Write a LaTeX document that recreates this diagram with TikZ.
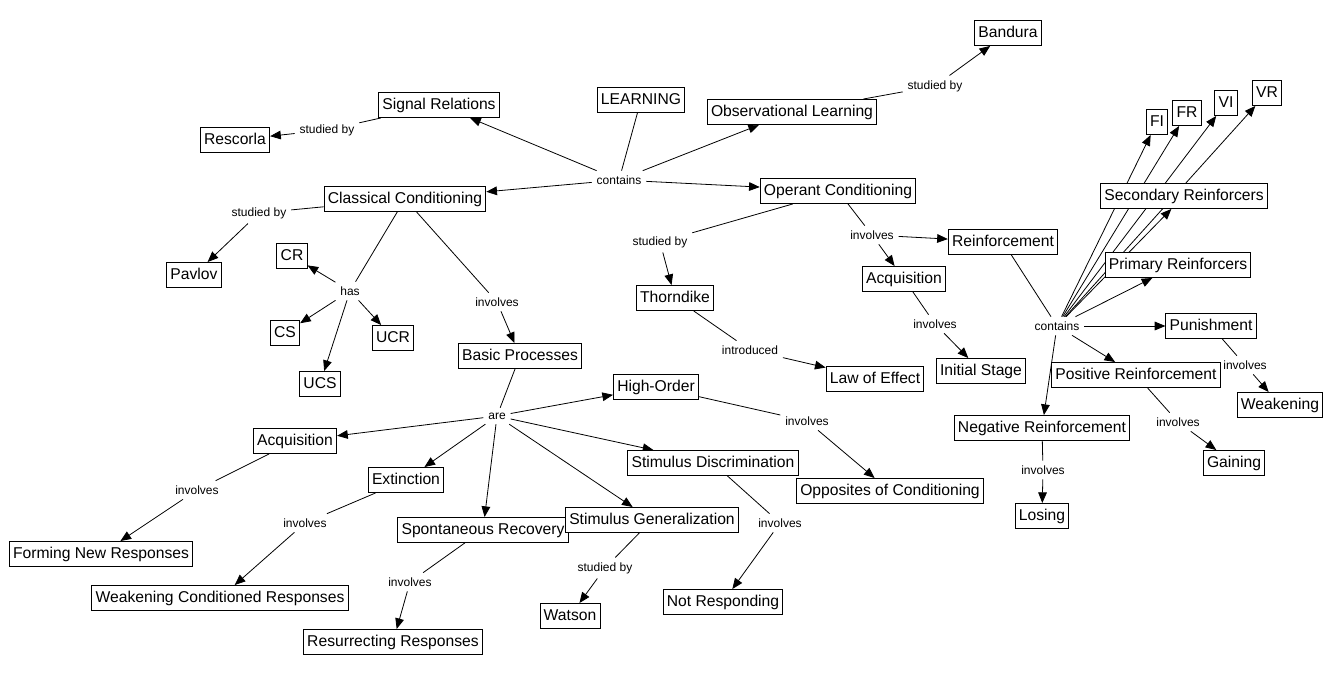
\documentclass[tikz,border=0pt]{standalone}
\usepackage{fontspec}
\setmainfont{Liberation Sans}
\usetikzlibrary{arrows.meta,backgrounds}

\begin{document}
\begin{tikzpicture}[x=0.75pt,y=-0.75pt]
 	\tikzstyle{concept}=[rectangle, draw=black, fill=white, line width=0.75pt, font=\fontsize{11.75}{14}\selectfont, inner xsep=2.8pt, inner ysep=3.6pt, text height=9pt, text depth=2.5pt]
 	\tikzstyle{phrase}=[inner sep=3.5pt, font=\fontsize{9}{11}\selectfont]
 	\tikzstyle{connect}=[-{Triangle[length=8pt,width=6.5pt]}, line width=0.6pt]
 	\tikzstyle{link}=[line width=0.6pt]
 	\useasboundingbox (0,0) rectangle (1339,674);
 	% upper part
 	\node[concept] (learning) at (641,100) {LEARNING};
 	\node[phrase] (contA) at (619,180) {contains};
 	\node[concept] (signal) at (439,105) {Signal Relations};
 	\node[concept] (rescorla) at (235,140) {Rescorla};
 	\node[phrase] (studA) at (327,130) {studied by};
 	\node[concept] (observ) at (792,112) {Observational Learning};
 	\node[phrase] (studB) at (935,86) {studied by};
 	\node[concept] (bandura) at (1008,33) {Bandura};
 	\node[concept] (classical) at (405,199) {Classical Conditioning};
 	\node[concept] (operant) at (838,191) {Operant Conditioning};
 	% classical conditioning
 	\node[phrase] (studC) at (259,213) {studied by};
 	\node[concept] (pavlov) at (194,275) {Pavlov};
 	\node[phrase] (has) at (350,291) {has};
 	\node[concept] (cr) at (292,256) {CR};
 	\node[concept] (cs) at (285,333) {CS};
 	\node[concept] (ucr) at (393,338) {UCR};
 	\node[concept] (ucs) at (320,384) {UCS};
 	\node[phrase] (invA) at (497,302) {involves};
 	\node[concept] (basic) at (520,356) {Basic Processes};
 	% operant conditioning
 	\node[phrase] (studD) at (660,242) {studied by};
 	\node[concept] (thorndike) at (675,298) {Thorndike};
 	\node[phrase] (intro) at (750,350) {introduced};
 	\node[concept] (law) at (875,379) {Law of Effect};
 	\node[phrase] (invB) at (872,235) {involves};
 	\node[concept] (reinf) at (1003,242) {Reinforcement};
 	\node[concept] (acqA) at (904,279) {Acquisition};
 	\node[phrase] (invC) at (935,324) {involves};
 	\node[concept] (initial) at (981,371) {Initial Stage};
 	% reinforcement
 	\node[phrase] (contB) at (1057,326) {contains};
 	\node[concept] (fi) at (1157,122) {FI};
 	\node[concept] (fr) at (1187,113) {FR};
 	\node[concept] (vi) at (1226,103) {VI};
 	\node[concept] (vr) at (1267,93) {VR};
 	\node[concept] (second) at (1184,196) {Secondary Reinforcers};
 	\node[concept] (primary) at (1178,265) {Primary Reinforcers};
 	\node[concept] (punish) at (1211,326) {Punishment};
 	\node[phrase] (invD) at (1245,365) {involves};
 	\node[concept] (weaken) at (1280,405) {Weakening};
 	\node[concept] (posreinf) at (1136,375) {Positive Reinforcement};
 	\node[phrase] (invE) at (1178,422) {involves};
 	\node[concept] (gaining) at (1234,463) {Gaining};
 	\node[concept] (negreinf) at (1042,428) {Negative Reinforcement};
 	\node[phrase] (invF) at (1043,470) {involves};
 	\node[concept] (losing) at (1042,516) {Losing};
 	% basic processes
 	\node[phrase] (are) at (497,416) {are};
 	\node[concept] (high) at (656,387) {High-Order};
 	\node[phrase] (invG) at (807,421) {involves};
 	\node[concept] (opposite) at (890,491) {Opposites of Conditioning};
 	\node[concept] (acqB) at (295,441) {Acquisition};
 	\node[phrase] (invH) at (197,490) {involves};
 	\node[concept] (forming) at (101,554) {Forming New Responses};
 	\node[concept] (extinct) at (406,480) {Extinction};
 	\node[phrase] (invI) at (305,523) {involves};
 	\node[concept] (weakcond) at (220,598) {Weakening Conditioned Responses};
 	\node[concept] (spont) at (483,530) {Spontaneous Recovery};
 	\node[phrase] (invJ) at (410,582) {involves};
 	\node[concept] (resurrect) at (393,642) {Resurrecting Responses};
 	\node[concept] (discrim) at (713,463) {Stimulus Discrimination};
 	\node[phrase] (invK) at (780,523) {involves};
 	\node[concept] (notresp) at (723,602) {Not Responding};
 	\node[concept] (general) at (652,520) {Stimulus Generalization};
 	\node[phrase] (studE) at (605,568) {studied by};
 	\node[concept] (watson) at (570,616) {Watson};
 	\begin{pgfonlayer}{background}
 	\path (learning) edge [link] (contA)
 	(contA) edge [connect] (signal)
 	(contA) edge [connect] (classical)
 	(contA) edge [connect] (observ)
 	(contA) edge [connect] (operant)
 	(signal) edge [link] (studA)
 	(studA) edge [connect] (rescorla)
 	(observ) edge [link] (studB)
 	(studB) edge [connect] (bandura)
 	(classical) edge [link] (studC)
 	(studC) edge [connect] (pavlov)
 	(classical) edge [link] (has)
 	(has) edge [connect] (cr)
 	(has) edge [connect] (cs)
 	(has) edge [connect] (ucs)
 	(has) edge [connect] (ucr)
 	(classical) edge [link] (invA)
 	(invA) edge [connect] (basic)
 	(operant) edge [link] (studD)
 	(studD) edge [connect] (thorndike)
 	(thorndike) edge [link] (intro)
 	(intro) edge [connect] (law)
 	(operant) edge [link] (invB)
 	(invB) edge [connect] (reinf)
 	(invB) edge [connect] (acqA)
 	(acqA) edge [link] (invC)
 	(invC) edge [connect] (initial)
 	(reinf) edge [link] (contB)
 	(contB) edge [connect] (fi)
 	(contB) edge [connect] (fr)
 	(contB) edge [connect] (vi)
 	(contB) edge [connect] (vr)
 	(contB) edge [connect] (second)
 	(contB) edge [connect] (primary)
 	(contB) edge [connect] (punish)
 	(contB) edge [connect] (posreinf)
 	(contB) edge [connect] (negreinf)
 	(punish) edge [link] (invD)
 	(invD) edge [connect] (weaken)
 	(posreinf) edge [link] (invE)
 	(invE) edge [connect] (gaining)
 	(negreinf) edge [link] (invF)
 	(invF) edge [connect] (losing)
 	(basic) edge [link] (are)
 	(are) edge [connect] (high)
 	(are) edge [connect] (acqB)
 	(are) edge [connect] (extinct)
 	(are) edge [connect] (spont)
 	(are) edge [connect] (general)
 	(are) edge [connect] (discrim)
 	(high) edge [link] (invG)
 	(invG) edge [connect] (opposite)
 	(acqB) edge [link] (invH)
 	(invH) edge [connect] (forming)
 	(extinct) edge [link] (invI)
 	(invI) edge [connect] (weakcond)
 	(spont) edge [link] (invJ)
 	(invJ) edge [connect] (resurrect)
 	(discrim) edge [link] (invK)
 	(invK) edge [connect] (notresp)
 	(general) edge [link] (studE)
 	(studE) edge [connect] (watson);
 	\end{pgfonlayer}
\end{tikzpicture}
\end{document}
